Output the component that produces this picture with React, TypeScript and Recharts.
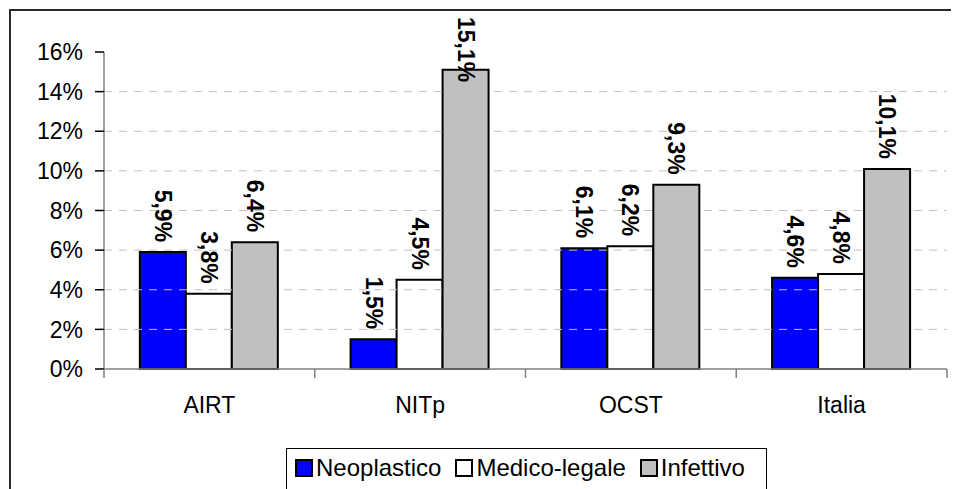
import { BarChart, Bar, XAxis, YAxis, ReferenceLine, Legend, LabelList } from "recharts";

const categories = ["AIRT", "NITp", "OCST", "Italia"];
const neoplastico = [5.9, 1.5, 6.1, 4.6];
const medicoLegale = [3.8, 4.5, 6.2, 4.8];
const infettivo = [6.4, 15.1, 9.3, 10.1];
const yTicks = [0, 2, 4, 6, 8, 10, 12, 14, 16];
const gridValues = [2, 4, 6, 8, 10, 12, 14];
// integer = boundary tick mark, half = category label
const edgeTicks = [0, 0.5, 1, 1.5, 2, 2.5, 3, 3.5, 4];

const series = [
  { key: "neoplastico", name: "Neoplastico", color: "#0000ff" },
  { key: "medicoLegale", name: "Medico-legale", color: "#ffffff" },
  { key: "infettivo", name: "Infettivo", color: "#c0c0c0" },
];

const data = categories.map((name, i) => ({
  name,
  neoplastico: neoplastico[i],
  medicoLegale: medicoLegale[i],
  infettivo: infettivo[i],
}));

const FONT = "'Liberation Sans', Arial, sans-serif";
const fmt = (v: number) => v.toFixed(1).replace(".", ",") + "%";
const charW: Record<string, number> = { ",": 0.278, "%": 0.889 };
const textLen = (s: string, fs: number) =>
  s.split("").reduce((a, ch) => a + (charW[ch] ?? 0.556), 0) * fs;

function BarLabel(props: any) {
  const vb = props.viewBox ?? props;
  const x = Number(vb.x), y = Number(vb.y), w = Number(vb.width);
  const s = fmt(Number(props.value));
  const len = textLen(s, 23);
  const cx = x + w / 2;
  // keep label inside chart frame like Excel does
  const end = Math.max(y - 10, 9 + len);
  return (
    <text
      transform={`translate(${cx},${end}) rotate(90)`}
      textAnchor="end"
      dy={8}
      fontFamily={FONT}
      fontSize={23}
      fontWeight="bold"
      fill="#000"
    >
      {s}
    </text>
  );
}

function EdgeTick(props: any) {
  const { x, y, payload } = props;
  const v = Number(payload.value);
  if (Number.isInteger(v)) {
    return <line x1={x} x2={x} y1={y} y2={y + 9} stroke="#808080" strokeWidth={1.5} />;
  }
  return (
    <text x={x} y={y + 44} textAnchor="middle" fontFamily={FONT} fontSize={23} fill="#000">
      {categories[Math.floor(v)]}
    </text>
  );
}

function LegendBox() {
  return (
    <div style={{
      boxSizing: "border-box",
      width: 481,
      height: 46,
      border: "1px solid #000",
      background: "#fff",
      display: "flex",
      alignItems: "center",
      paddingLeft: 8,
      paddingBottom: 6,
      fontFamily: FONT,
      fontSize: 24,
      color: "#000",
    }}>
      {series.map((s) => (
        <span key={s.key} style={{ display: "flex", alignItems: "center", marginRight: 14 }}>
          <span style={{
            display: "inline-block",
            boxSizing: "border-box",
            width: 18,
            height: 18,
            border: "2px solid #000",
            background: s.color,
            marginRight: 3,
          }} />
          {s.name}
        </span>
      ))}
    </div>
  );
}

export default function App() {
  return (
    <div style={{ position: "relative", width: 951, height: 481, overflow: "hidden", background: "#fff" }}>
      <div style={{
        position: "absolute",
        left: 1,
        top: 1,
        width: 1200,
        height: 1200,
        borderTop: "2px solid #2a2a2a",
        borderLeft: "2px solid #2a2a2a",
      }} />
      <div style={{ position: "absolute", left: 0, top: 0 }}>
        <BarChart
          width={951}
          height={481}
          data={data}
          margin={{ top: 44, right: 12, bottom: 70, left: 0 }}
          barCategoryGap="17%"
          barGap={0}
        >
          <XAxis xAxisId="cat" dataKey="name" hide height={0} />
          <XAxis
            xAxisId="edge"
            type="number"
            dataKey={() => 0}
            domain={[0, 4]}
            allowDataOverflow
            ticks={edgeTicks}
            interval={0}
            height={50}
            tickSize={0}
            tickMargin={0}
            tickLine={false}
            tick={<EdgeTick />}
            axisLine={{ stroke: "#808080", strokeWidth: 1.5 }}
          />
          <YAxis
            domain={[0, 16]}
            ticks={yTicks}
            interval={0}
            width={96}
            tickSize={9}
            tickMargin={12}
            tickFormatter={(v: number) => `${v}%`}
            tick={{ fill: "#000", fontSize: 23, fontFamily: FONT }}
            tickLine={{ stroke: "#000", strokeWidth: 1.5 }}
            axisLine={{ stroke: "#808080", strokeWidth: 1.5 }}
          />
          {gridValues.map((v) => (
            <ReferenceLine
              key={v}
              xAxisId="cat"
              y={v}
              stroke="#c0c0c0"
              strokeWidth={1}
              strokeDasharray="8 7"
            />
          ))}
          {series.map((s) => (
            <Bar
              key={s.key}
              xAxisId="cat"
              dataKey={s.key}
              name={s.name}
              fill={s.color}
              stroke="#000"
              strokeWidth={2}
              isAnimationActive={false}
            >
              <LabelList dataKey={s.key} content={BarLabel} />
            </Bar>
          ))}
          <Legend
            verticalAlign="middle"
            align="center"
            layout="horizontal"
            wrapperStyle={{ left: 278, top: 440, width: 481, height: 46 }}
            content={() => <LegendBox />}
          />
        </BarChart>
      </div>
    </div>
  );
}
